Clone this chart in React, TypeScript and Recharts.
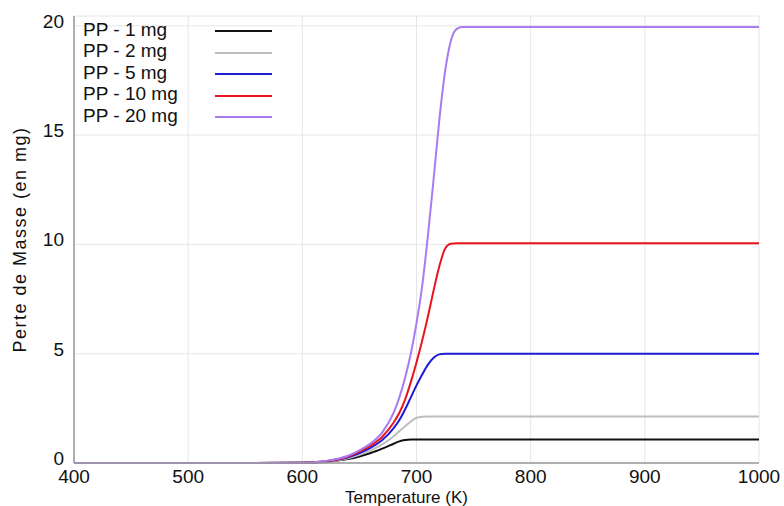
import { LineChart, Line, XAxis, YAxis, CartesianGrid } from 'recharts';

const temps = [400, 500, 550, 600, 620, 640, 650, 660, 670, 680, 685, 690, 695, 700, 705, 710, 715, 720, 725, 730, 735, 740, 750, 800, 900, 1000];

const pp1 = [0, 0, 0, 0.01, 0.05, 0.18, 0.3, 0.46, 0.66, 0.88, 0.99, 1.05, 1.07, 1.07, 1.07, 1.07, 1.07, 1.07, 1.07, 1.07, 1.07, 1.07, 1.07, 1.07, 1.07, 1.07];
const pp2 = [0, 0, 0, 0.01, 0.06, 0.22, 0.38, 0.58, 0.85, 1.22, 1.45, 1.68, 1.9, 2.07, 2.12, 2.13, 2.13, 2.13, 2.13, 2.13, 2.13, 2.13, 2.13, 2.13, 2.13, 2.13];
const pp5 = [0, 0, 0, 0.01, 0.07, 0.26, 0.45, 0.7, 1.05, 1.6, 1.97, 2.45, 3.0, 3.55, 4.05, 4.5, 4.82, 4.97, 5.0, 5.0, 5.0, 5.0, 5.0, 5.0, 5.0, 5.0];
const pp10 = [0, 0, 0, 0.01, 0.08, 0.3, 0.52, 0.8, 1.2, 1.85, 2.3, 2.9, 3.7, 4.6, 5.6, 6.7, 7.9, 9.0, 9.8, 10.03, 10.05, 10.05, 10.05, 10.05, 10.05, 10.05];
const pp20 = [0, 0, 0, 0.01, 0.09, 0.33, 0.58, 0.9, 1.4, 2.3, 3.0, 3.9, 5.0, 6.4, 8.1, 10.4, 13.0, 15.7, 17.9, 19.3, 19.85, 19.95, 19.95, 19.95, 19.95, 19.95];

const xTicks = [400, 500, 600, 700, 800, 900, 1000];
const yTicks = [0, 5, 10, 15, 20];

const series = [
  { key: 'pp1', name: 'PP - 1 mg', color: '#111111' },
  { key: 'pp2', name: 'PP - 2 mg', color: '#bdbdbd' },
  { key: 'pp5', name: 'PP - 5 mg', color: '#1c1cd6' },
  { key: 'pp10', name: 'PP - 10 mg', color: '#e8151c' },
  { key: 'pp20', name: 'PP - 20 mg', color: '#a77cf2' },
];

const data = temps.map((t, i) => ({
  t,
  pp1: pp1[i],
  pp2: pp2[i],
  pp5: pp5[i],
  pp10: pp10[i],
  pp20: pp20[i],
}));

const font = 'Arial, "Liberation Sans", sans-serif';

const YTick = (props: any) => {
  const { x, y, payload } = props;
  return (
    <text x={x - 2} y={y - 3} textAnchor="end" dominantBaseline="middle" fontSize={19} fontFamily={font} fill="#111">
      {payload.value}
    </text>
  );
};

const XTick = (props: any) => {
  const { x, y, payload } = props;
  return (
    <text x={x} y={y + 7} textAnchor="middle" dominantBaseline="middle" fontSize={19} fontFamily={font} fill="#111">
      {payload.value}
    </text>
  );
};

export default function App() {
  return (
    <div style={{ position: 'absolute', left: 0, top: 0, width: 784, height: 506, background: '#fff' }}>
      <LineChart width={784} height={506} data={data} margin={{ top: 16, right: 25, left: 0, bottom: 0 }}>
        <CartesianGrid stroke="#e6e6e6" strokeWidth={1} />
        <XAxis
          dataKey="t"
          type="number"
          domain={[400, 1000]}
          ticks={xTicks}
          tick={<XTick />}
          tickLine={false}
          axisLine={{ stroke: '#999', strokeWidth: 1.5 }}
          height={43}
          label={{ value: 'Temperature (K)', position: 'insideBottom', offset: 3, dx: -10, style: { fontFamily: font, fontSize: 17, fill: '#111' } }}
        />
        <XAxis xAxisId="top" orientation="top" dataKey="t" type="number" domain={[400, 1000]} ticks={xTicks} tick={false} tickLine={false} axisLine={{ stroke: '#999', strokeWidth: 1.5 }} height={0} />
        <YAxis
          type="number"
          domain={[0, 20.45]}
          ticks={yTicks}
          tick={<YTick />}
          tickLine={false}
          axisLine={{ stroke: '#999', strokeWidth: 1.5 }}
          width={74}
          label={{ value: 'Perte de Masse (en mg)', angle: -90, position: 'insideLeft', offset: 20, style: { textAnchor: 'middle', fontFamily: font, fontSize: 18, letterSpacing: 1.5, fill: '#111' } }}
        />
        <YAxis yAxisId="right" orientation="right" domain={[0, 20.45]} ticks={yTicks} tick={false} tickLine={false} axisLine={{ stroke: '#999', strokeWidth: 1.5 }} width={0} />
        {series.map((s) => (
          <Line
            key={s.key}
            type="monotone"
            dataKey={s.key}
            name={s.name}
            stroke={s.color}
            strokeWidth={2}
            dot={false}
            isAnimationActive={false}
          />
        ))}
      </LineChart>
      {/* legend sits inside the plot, top-left */}
      <div style={{ position: 'absolute', left: 83, top: 19, fontFamily: font, fontSize: 19, color: '#111' }}>
        {series.map((s) => (
          <div key={s.key} style={{ display: 'flex', alignItems: 'center', height: 21.5 }}>
            <span style={{ width: 132 }}>{s.name}</span>
            <span style={{ display: 'inline-block', width: 57, height: 2, background: s.color, marginTop: 3 }} />
          </div>
        ))}
      </div>
    </div>
  );
}
